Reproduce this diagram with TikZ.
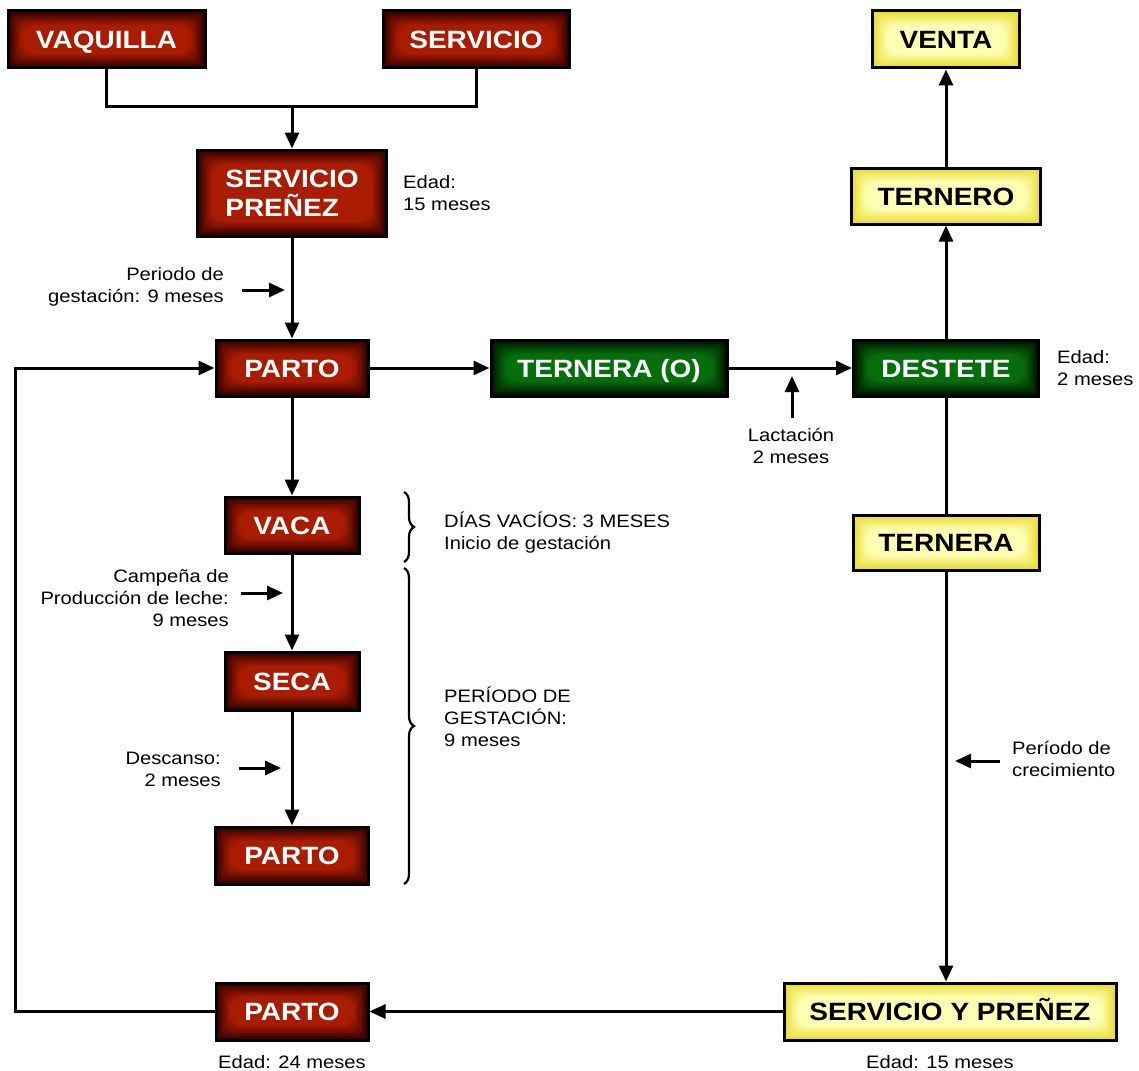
\documentclass[tikz,border=0pt]{standalone}
\usepackage{fontspec}
\setmainfont{Liberation Sans}[FakeStretch=1.12]
\usetikzlibrary{arrows.meta,decorations.pathreplacing,calc}
\definecolor{rin}{RGB}{170,28,0}
\definecolor{rout}{RGB}{45,0,0}
\definecolor{gin}{RGB}{5,110,12}
\definecolor{gout}{RGB}{0,15,0}
\definecolor{yin}{RGB}{255,255,180}
\definecolor{yout}{RGB}{232,218,45}
\begin{document}
\begin{tikzpicture}[x=1pt,y=-1pt,
  glow/.style 2 args={path picture={
     \fill[#2] (path picture bounding box.south west) rectangle (path picture bounding box.north east);
     \foreach \k in {1,...,10}{
       \pgfmathtruncatemacro\m{10*\k}
       \pgfmathsetmacro\d{1.4*\k}
       \fill[#1!\m!#2,rounded corners=\d pt] ([shift={(\d pt,\d pt)}]path picture bounding box.south west) rectangle ([shift={(-\d pt,-\d pt)}]path picture bounding box.north east);
     }}},
  box/.style={draw=black,line width=3pt,inner sep=0pt,font=\bfseries\fontsize{25}{29}\selectfont,align=center},
  tc/.style={text height=18pt,text depth=0pt},
  redbox/.style={box,tc,glow={rin}{rout},text=white},
  greenbox/.style={box,tc,glow={gin}{gout},text=white},
  yellowbox/.style={box,tc,glow={yin}{yout},text=black},
  lbl/.style={font=\fontsize{18}{22}\selectfont,inner sep=0pt},
  arr/.style={line width=3pt,-{Triangle[length=16pt,width=14pt]}},
  ln/.style={line width=3pt},
  br/.style={line width=2.2pt,decorate,decoration={brace,amplitude=10pt}}
]
\useasboundingbox (0,0) rectangle (1139,1070);

% left column
\node[redbox,minimum width=197pt,minimum height=57pt] (vaq) at (106.5,39.5) {VAQUILLA};
\node[redbox,minimum width=186pt,minimum height=57pt] (serv) at (476,39.5) {SERVICIO};
\node[box,glow={rin}{rout},text=white,minimum width=189pt,minimum height=86pt,align=left] (sp) at (292,193) {SERVICIO\\PREÑEZ};
\node[redbox,minimum width=152pt,minimum height=56pt] (parto1) at (292,368) {PARTO};
\node[redbox,minimum width=134pt,minimum height=56pt] (vaca) at (292,525) {VACA};
\node[redbox,minimum width=134pt,minimum height=58pt] (seca) at (292,681) {SECA};
\node[redbox,minimum width=153pt,minimum height=57pt] (parto2) at (292,855.5) {PARTO};
\node[redbox,minimum width=152pt,minimum height=57pt] (parto3) at (292,1011.5) {PARTO};

% middle / right
\node[greenbox,minimum width=236pt,minimum height=56pt] (ternO) at (609,368) {TERNERA (O)};
\node[greenbox,minimum width=185pt,minimum height=56pt] (dest) at (946,368) {DESTETE};
\node[yellowbox,minimum width=147pt,minimum height=57pt] (venta) at (946,39.5) {VENTA};
\node[yellowbox,minimum width=189pt,minimum height=56pt] (ternero) at (946,196) {TERNERO};
\node[yellowbox,minimum width=186pt,minimum height=55pt] (ternera) at (946,542.5) {TERNERA};
\node[yellowbox,minimum width=332pt,minimum height=57pt] (syp) at (950,1011.5) {SERVICIO Y PREÑEZ};

% connectors
\coordinate (j) at (292,107);
\draw[ln] (vaq.south) -- (vaq.south |- j) -- (serv.south |- j) -- (serv.south);
\draw[arr] (j) -- (sp.north);
\draw[arr] (sp.south) -- (parto1.north);
\draw[arr] (parto1.east) -- (ternO.west);
\draw[arr] (ternO.east) -- (dest.west);
\draw[arr] (parto1.south) -- (vaca.north);
\draw[arr] (vaca.south) -- (seca.north);
\draw[arr] (seca.south) -- (parto2.north);
\draw[arr] (dest.north) -- (ternero.south);
\draw[arr] (ternero.north) -- (venta.south);
\draw[ln] (dest.south) -- (ternera.north);
\draw[arr] (ternera.south) -- (ternera.south |- syp.north);
\draw[arr] (syp.west) -- (parto3.east);
\coordinate (lp) at (15,0);
\draw[arr] (parto3.west) -- (parto3.west -| lp) -- (parto1.west -| lp) -- (parto1.west);

% short side arrows
\coordinate (g1) at (242,290); \coordinate (g2) at (285,290);
\draw[arr] (g1) -- (g2);
\coordinate (c1) at (241,593); \coordinate (c2) at (283,593);
\draw[arr] (c1) -- (c2);
\coordinate (d1) at (239,768); \coordinate (d2) at (281,768);
\draw[arr] (d1) -- (d2);
\coordinate (l1) at (792,418); \coordinate (l2) at (792,376);
\draw[arr] (l1) -- (l2);
\coordinate (k1) at (1000,761); \coordinate (k2) at (955,761);
\draw[arr] (k1) -- (k2);

% braces
\coordinate (b1a) at (404,492); \coordinate (b1b) at (404,562);
\draw[br] (b1a) -- (b1b);
\coordinate (b2a) at (404,568); \coordinate (b2b) at (404,884);
\draw[br] (b2a) -- (b2b);

% labels
\node[lbl,anchor=west,align=left] (e15) at (403,193) {Edad:\\15 meses};
\node[lbl,anchor=east,align=right] (pg) at (224,287) {Periodo de\\gestación: 9 meses};
\node[lbl,align=center] (lact) at (791,446) {Lactación\\2 meses};
\node[lbl,anchor=west,align=left] (e2) at (1057,368) {Edad:\\2 meses};
\node[lbl,anchor=west,align=left] (dv) at (444,533) {DÍAS VACÍOS: 3 MESES\\Inicio de gestación};
\node[lbl,anchor=east,align=right] (camp) at (229,598) {Campeña de\\Producción de leche:\\9 meses};
\node[lbl,anchor=east,align=right] (desc) at (221,769) {Descanso:\\2 meses};
\node[lbl,anchor=west,align=left] (pdg) at (444,717) {PERÍODO DE\\GESTACIÓN:\\9 meses};
\node[lbl,anchor=west,align=left] (crec) at (1012,759) {Período de\\crecimiento};
\node[lbl] (e24) at (292,1062) {Edad: 24 meses};
\node[lbl] (e15b) at (940,1062) {Edad: 15 meses};
\end{tikzpicture}
\end{document}
